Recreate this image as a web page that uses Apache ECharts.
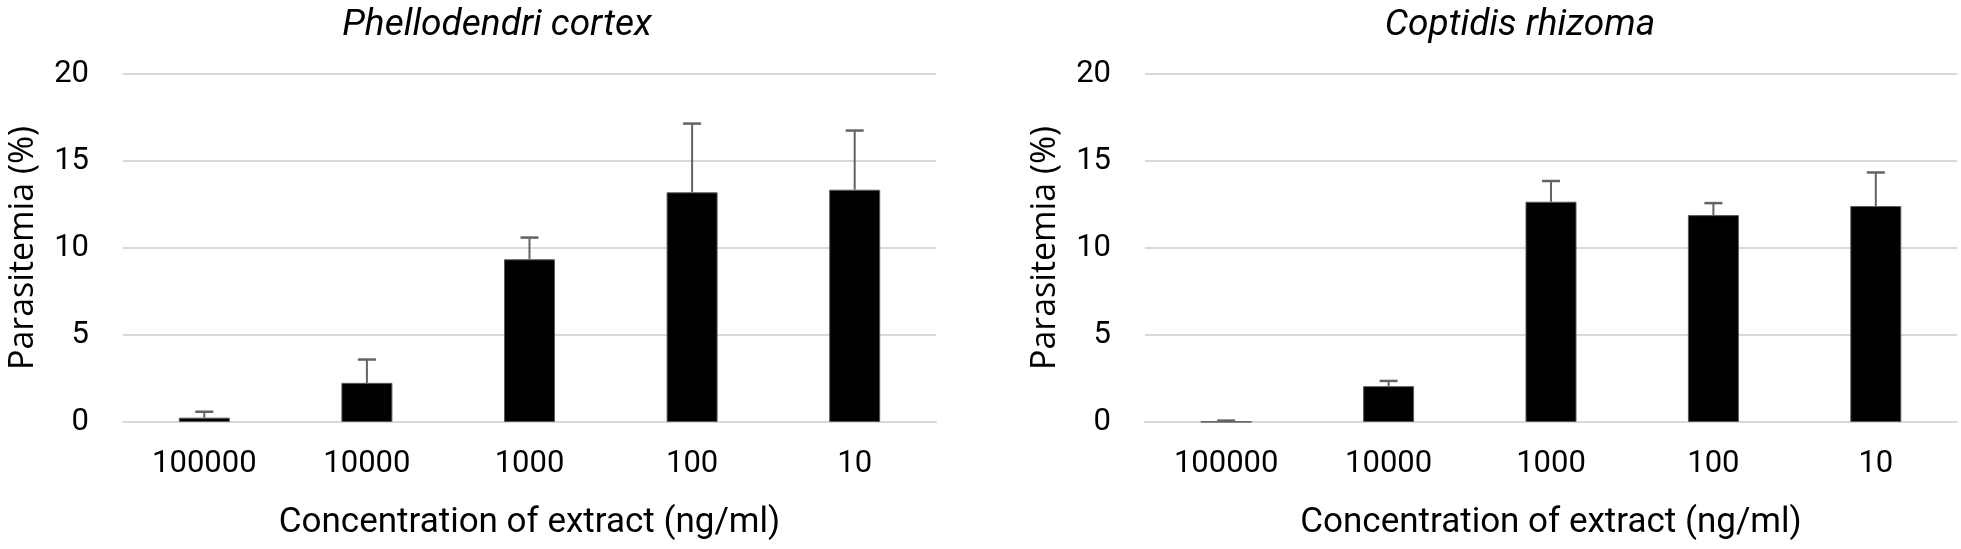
<!DOCTYPE html>
<html>
<head>
<meta charset="utf-8">
<script src="https://cdn.jsdelivr.net/npm/echarts@6/dist/echarts.min.js"></script>
<style>
  html, body { margin: 0; padding: 0; background: #fff; }
  #chart { width: 1961px; height: 549px; }
</style>
</head>
<body>
<div id="chart"></div>
<script>
// ---- data ----
const categories = ['100000', '10000', '1000', '100', '10'];
const yTicks = [0, 5, 10, 15, 20];
const titleLeft = 'Phellodendri cortex';
const titleRight = 'Coptidis rhizoma';
const xAxisTitle = 'Concentration of extract (ng/ml)';
const yAxisTitle = 'Parasitemia (%)';
const phellodendriMean = [0.25, 2.25, 9.35, 13.2, 13.35];
const phellodendriErr = [0.34, 1.34, 1.25, 3.95, 3.4];
const coptidisMean = [0.01, 2.06, 12.66, 11.89, 12.41];
const coptidisErr = [0.07, 0.3, 1.19, 0.69, 1.93];

// ---- styles ----
const tickFont = 'Roboto';
const gridColor = '#d9d9d9';
const errColor = '#636363';

function errRender(params, api) {
  const x = api.value(0), y = api.value(1), e = api.value(2);
  const base = api.coord([x, y]);
  const top = api.coord([x, y + e]);
  const half = 9;
  return {
    type: 'group',
    children: [
      { type: 'line', shape: { x1: base[0], y1: base[1], x2: top[0], y2: top[1] },
        style: { stroke: errColor, lineWidth: 2 } },
      { type: 'line', shape: { x1: top[0] - half, y1: top[1], x2: top[0] + half, y2: top[1] },
        style: { stroke: errColor, lineWidth: 2.5 } }
    ]
  };
}

function xAxisDef(gi) {
  return {
    type: 'category', gridIndex: gi, data: categories,
    axisTick: { show: false },
    axisLine: { show: true, lineStyle: { color: gridColor, width: 2 } },
    axisLabel: { margin: 27, fontFamily: tickFont, fontSize: 31, color: '#000' },
    name: xAxisTitle, nameLocation: 'middle', nameGap: 84,
    nameTextStyle: { fontFamily: tickFont, fontSize: 35, color: '#000' }
  };
}
function yAxisDef(gi) {
  return {
    type: 'value', gridIndex: gi, min: 0, max: 20, interval: 5,
    axisLine: { show: false }, axisTick: { show: false },
    splitLine: { show: true, lineStyle: { color: gridColor, width: 2 } },
    axisLabel: { margin: 34, fontFamily: tickFont, fontSize: 31, color: '#000',
      formatter: v => (yTicks.indexOf(v) >= 0 ? String(v) : '') },
    name: yAxisTitle, nameLocation: 'middle', nameRotate: 90, nameGap: 83,
    nameTextStyle: { fontFamily: 'Open Sans', fontSize: 34, color: '#000' }
  };
}
function barSeries(gi, mean) {
  return {
    type: 'bar', xAxisIndex: gi, yAxisIndex: gi, data: mean, barWidth: 51,
    itemStyle: { color: '#000', borderColor: '#595959', borderWidth: 1 },
    silent: true, animation: false
  };
}
function errSeries(gi, mean, err) {
  return {
    type: 'custom', xAxisIndex: gi, yAxisIndex: gi,
    data: categories.map((c, i) => [i, mean[i], err[i]]),
    encode: { x: 0, y: 1 },
    renderItem: errRender, z: 3, silent: true, animation: false
  };
}

const chart = echarts.init(document.getElementById('chart'), null, { renderer: 'canvas' });
chart.setOption({
  backgroundColor: '#fff',
  animation: false,
  title: [
    { text: titleLeft, left: 492, top: 2, textAlign: 'center',
      textStyle: { fontFamily: tickFont, fontStyle: 'italic', fontWeight: 'normal', fontSize: 37, color: '#000' } },
    { text: titleRight, left: 1515, top: 2, textAlign: 'center',
      textStyle: { fontFamily: tickFont, fontStyle: 'italic', fontWeight: 'normal', fontSize: 37, color: '#000' } }
  ],
  grid: [
    { left: 123, width: 813, top: 74, height: 348, containLabel: false },
    { left: 1145, width: 812, top: 74, height: 348, containLabel: false }
  ],
  xAxis: [xAxisDef(0), xAxisDef(1)],
  yAxis: [yAxisDef(0), yAxisDef(1)],
  series: [
    barSeries(0, phellodendriMean), errSeries(0, phellodendriMean, phellodendriErr),
    barSeries(1, coptidisMean), errSeries(1, coptidisMean, coptidisErr)
  ]
});
</script>
</body>
</html>
